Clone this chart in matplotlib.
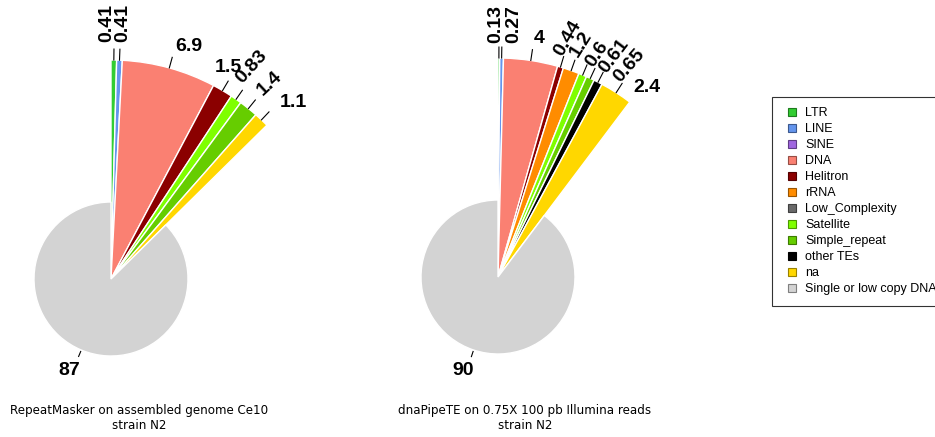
import matplotlib
matplotlib.use('Agg')
import matplotlib.pyplot as plt
from matplotlib.patches import Patch, Rectangle
from matplotlib.legend_handler import HandlerPatch
import matplotlib.colors as mcolors
import numpy as np

# ---- data ----
categories = ['LTR', 'LINE', 'SINE', 'DNA', 'Helitron', 'rRNA', 'Low_Complexity',
              'Satellite', 'Simple_repeat', 'other TEs', 'na', 'Single or low copy DNA']
cat_colors = ['#32CD32', '#6495ED', '#A066E0', '#FA8072', '#8B0000', '#FF8C00', '#696969',
              '#7FFF00', '#66CD00', '#000000', '#FFD700', '#D3D3D3']

rm_cats = ['LTR', 'LINE', 'DNA', 'Helitron', 'Satellite', 'Simple_repeat', 'na',
           'Single or low copy DNA']
rm_values = [0.41, 0.41, 6.9, 1.5, 0.83, 1.4, 1.1, 87]

dp_cats = ['LTR', 'LINE', 'DNA', 'Helitron', 'rRNA', 'Satellite', 'Simple_repeat',
           'other TEs', 'na', 'Single or low copy DNA']
dp_values = [0.13, 0.27, 4, 0.44, 1.2, 0.6, 0.61, 0.65, 2.4, 90]

titles = ['RepeatMasker on assembled genome Ce10\nstrain N2',
          'dnaPipeTE on 0.75X 100 pb Illumina reads\nstrain N2']

# ---- styles (label rotation and pixel nudges, y positive = down) ----
rm_rot = [90, 90, 0, 0, 48, 43, 0, 0]
rm_off = [(-3, -7), (7, -7), (0, 0), (-19, -4), (0, -6), (7, -4), (3, -1), (2, 13)]
dp_rot = [90, 90, 0, 60, 58, 56, 53, 49, 0, 0]
dp_off = [(1, -4), (16, -4), (0, 0), (-1, 0), (3, -2), (6, 3), (11, 6), (17, 11),
          (5, 13), (3, 13)]
colmap = dict(zip(categories, cat_colors))
W, H = 935, 437
R_BIG, R_SMALL = 219, 77
LABEL_FONT = 'Liberation Sans'

fig = plt.figure(figsize=(W / 100, H / 100), dpi=100)
ax = fig.add_axes([0, 0, 1, 1])


def draw_pie(cats, vals, center, rots, offs):
    wedges, _ = ax.pie(vals, colors=[colmap[c] for c in cats], startangle=90,
                       counterclock=False, radius=R_BIG, center=center, frame=True,
                       wedgeprops=dict(edgecolor='white', linewidth=1.0))
    wedges[-1].set_radius(R_SMALL)
    for wdg, v, rot, (dx, dy) in zip(wedges, vals, rots, offs):
        ang = np.deg2rad((wdg.theta1 + wdg.theta2) / 2)
        r = wdg.r
        ux, uy = np.cos(ang), np.sin(ang)
        if r == R_SMALL:
            l0, l1 = 1.02, 1.09
        else:
            l0, l1 = 1.0, 1.05
        ax.plot([center[0] + l0 * r * ux, center[0] + l1 * r * ux],
                [center[1] + l0 * r * uy, center[1] + l1 * r * uy],
                color='black', lw=0.8)
        if rot == 0:
            tx = center[0] + 1.1 * r * ux + dx
            ty = center[1] + 1.1 * r * uy - dy
            ax.text(tx, ty, f'{v:g}', ha='left' if ux >= 0 else 'right', va='center',
                    fontsize=14, fontweight='bold', family=LABEL_FONT)
        else:
            tx = center[0] + l1 * r * ux + dx
            ty = center[1] + l1 * r * uy - dy
            ax.text(tx, ty, f'{v:g}', ha='left', va='baseline', rotation=rot,
                    rotation_mode='anchor', fontsize=14, fontweight='bold',
                    family=LABEL_FONT)


draw_pie(rm_cats, rm_values, (111, H - 279), rm_rot, rm_off)
draw_pie(dp_cats, dp_values, (498, H - 277), dp_rot, dp_off)

ax.set_xlim(0, W)
ax.set_ylim(0, H)
ax.set_aspect('equal')
ax.axis('off')

fig.text(139 / W, 1 - 418 / H, titles[0], ha='center', va='center',
         multialignment='center', fontsize=8.6, family='DejaVu Sans')
fig.text(525 / W, 1 - 418 / H, titles[1], ha='center', va='center',
         multialignment='center', fontsize=8.6, family='DejaVu Sans')


def darker(c, f=0.6):
    rgb = np.array(mcolors.to_rgb(c))
    return tuple(rgb * f)


SQ = 5.8  # points


def square_patch(legend, orig_handle, xdescent, ydescent, width, height, fontsize):
    return Rectangle((-xdescent + width - SQ, -ydescent + (height - SQ) / 2), SQ, SQ)


handles = [Patch(facecolor=c, edgecolor=darker(c), linewidth=0.8, label=n)
           for n, c in zip(categories, cat_colors)]
leg = fig.legend(handles=handles, loc='upper left',
                 bbox_to_anchor=(772 / W, 1 - 97 / H), frameon=True,
                 fancybox=False, edgecolor='black',
                 prop={'family': LABEL_FONT, 'size': 9},
                 handler_map={Patch: HandlerPatch(patch_func=square_patch)},
                 handlelength=1.11, handleheight=0.7, handletextpad=0.72,
                 labelspacing=0.32, borderpad=0.82, borderaxespad=0)
leg.get_frame().set_linewidth(0.8)

fig.savefig('out.png', dpi=100)
